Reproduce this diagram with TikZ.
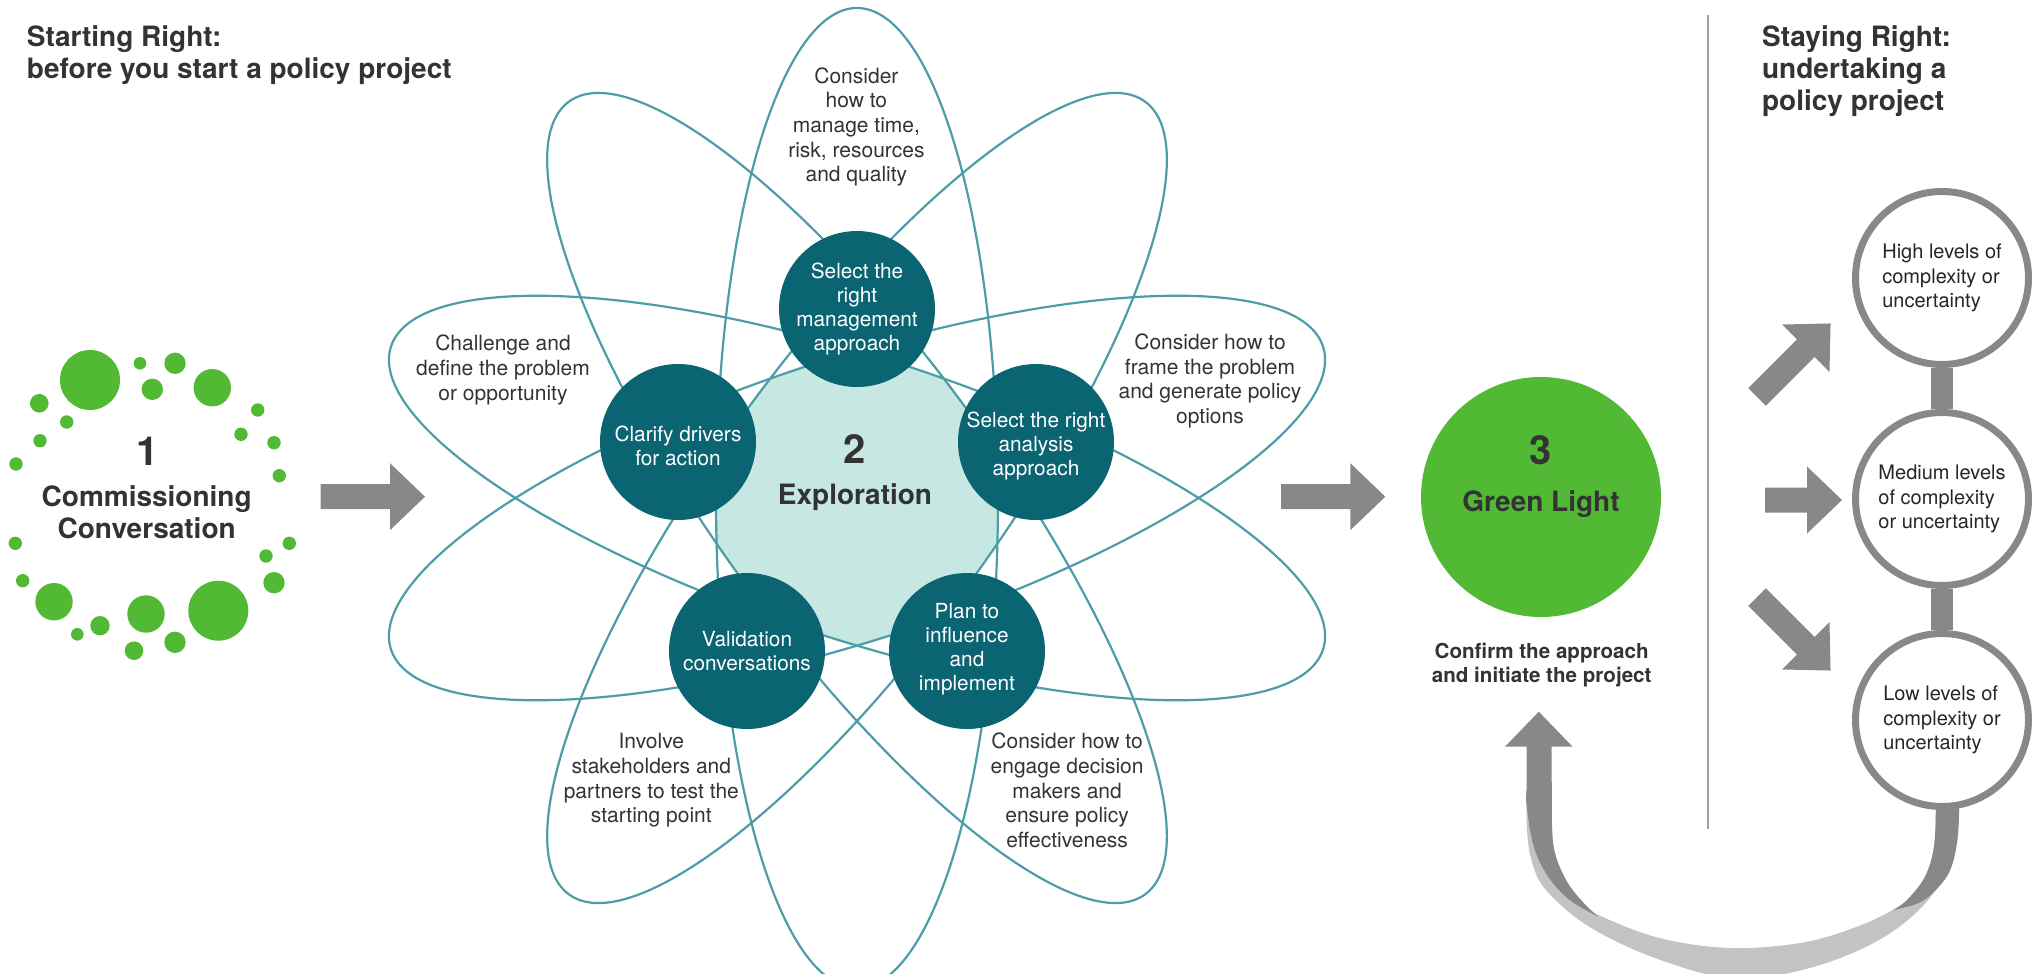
\documentclass[tikz,border=0pt]{standalone}
\usepackage{fontspec}
\setmainfont{TeX Gyre Heros}
\definecolor{tealdark}{HTML}{0B6472}
\definecolor{tealline}{HTML}{4C9DA7}
\definecolor{teallight}{HTML}{C6E7E2}
\definecolor{grn}{HTML}{52B934}
\definecolor{agray}{HTML}{888888}
\definecolor{lgray}{HTML}{C3C3C3}
\definecolor{txt}{HTML}{333333}
\definecolor{divgray}{HTML}{A0A0A0}
\tikzset{
  petal/.style={font=\fontsize{10.5}{12.35}\selectfont, text=txt, align=center, inner sep=0pt},
  hub/.style={circle, fill=tealdark, minimum size=78pt, inner sep=0pt},
  hubtext/.style={font=\fontsize{10.4}{12.1}\selectfont, text=white, align=center, inner sep=0pt},
  orbit/.style={draw=tealline, line width=1.1pt},
  heading/.style={font=\fontsize{14}{16}\selectfont\bfseries, text=txt, align=left,
    inner sep=0pt, anchor=north west},
  bignum/.style={font=\fontsize{20}{24}\selectfont\bfseries, text=txt, inner sep=0pt, anchor=base},
  titletext/.style={font=\fontsize{14}{16}\selectfont\bfseries, text=txt, inner sep=0pt, anchor=base},
  subtext/.style={font=\fontsize{10.3}{12}\selectfont\bfseries, text=txt, inner sep=0pt, anchor=base},
  level/.style={circle, draw=agray, line width=3.5pt, fill=white, minimum size=86.5pt,
    inner sep=0pt, font=\fontsize{10}{12.2}\selectfont, text=black!85, align=left},
  bar/.style={draw=agray, line width=11pt},
  pics/blockarrow/.style={code={
    \fill[agray] (0,-12.5) -- (#1,-12.5) -- (#1,-33.5) -- ({#1+35},0) -- (#1,33.5)
      -- (#1,12.5) -- (0,12.5) -- cycle;}}
}
\begin{document}
\begin{tikzpicture}[x=0.5pt,y=-0.5pt]
\useasboundingbox (0,0) rectangle (2040,974);

% ---------- headings
\node[heading] (h1) at (26.5,25) {Starting Right:\\before you start a policy project};
\node[heading] (h2) at (1761.7,25) {Staying Right:\\undertaking a\\policy project};

% ---------- 1 commissioning dots
\foreach \x/\y/\r in {90/380/30, 140/363.3/6.3, 175/363.3/10.7, 152.3/389.3/10.7,
  212.3/387.7/18.7, 39.3/403.3/9.3, 66.7/422/6.7, 40/440.7/6.7, 16/464/6.7,
  257.7/410/6.7, 241/434.3/6.7, 274/442.7/6.7, 279.3/475.7/6.7, 15.3/543.3/6.7,
  289.3/543.3/6.7, 266/556/6.7, 22.7/580.7/6.7, 274/582.7/10.7, 54/601.7/18.7,
  218.3/610.7/30, 146/614/18.7, 100/625.7/9.7, 77.3/634.3/6.3, 175/642.3/10.7,
  134/650.7/9.3}
  \fill[grn] (\x,\y) circle (\r);
\node[bignum] (n1) at (147.3,465) {1};
\node[titletext] (comm1) at (146.7,506) {Commissioning};
\node[titletext] (comm2) at (146.7,538.3) {Conversation};

% ---------- arrows between stages
\pic at (320.7,496.7) {blockarrow=69.3};
\pic at (1281,496.7) {blockarrow=69.3};

% ---------- 2 exploration
\coordinate (C) at (857,498);
\fill[teallight] ({857+148*cos(18)},{498-148*sin(18)})
  \foreach \k in {1,...,9}{ -- ({857+148*cos(18+36*\k)},{498-148*sin(18+36*\k)}) } -- cycle;
\foreach \a in {90,54,18,-18,-54}
  \draw[orbit, rotate around={\a:(C)}] (C) ellipse [x radius=490, y radius=141];

\node[hub] (mgmt) at (857,309) {};
\node[hub] (anal) at (1036,442) {};
\node[hub] (plan) at (967,651) {};
\node[hub] (valid) at (747,651) {};
\node[hub] (clar) at (678,442) {};
\node[hubtext] at (mgmt.center) {Select the\\right\\management\\approach};
\node[hubtext] at ([yshift=-2pt]anal.center) {Select the right\\analysis\\approach};
\node[hubtext] at ([yshift=1pt]plan.center) {Plan to\\influence\\and\\implement};
\node[hubtext] at (valid.center) {Validation\\conversations};
\node[hubtext] at ([yshift=-2pt]clar.center) {Clarify drivers\\for action};

\node[bignum] (n2) at (855,463.3) {2};
\node[titletext] (expl) at (855,504) {Exploration};

\node[petal] (p1) at (856.4,127) {Consider\\how to\\manage time,\\risk, resources\\and quality};
\node[petal] (p2) at (503,370) {Challenge and\\define the problem\\or opportunity};
\node[petal] (p3) at (1210,381) {Consider how to\\frame the problem\\and generate policy\\options};
\node[petal] (p4) at (651.3,780.5) {Involve\\stakeholders and\\partners to test the\\starting point};
\node[petal] (p5) at (1067.1,790.5) {Consider how to\\engage decision\\makers and\\ensure policy\\effectiveness};

% ---------- 3 green light
\node[circle, fill=grn, minimum size=120pt, inner sep=0pt] (glc) at (1541,497) {};
\node[bignum] (n3) at (1541,464) {3};
\node[titletext] (gl) at (1541,511.7) {Green Light};
\node[subtext] (conf1) at (1541.7,658.3) {Confirm the approach};
\node[subtext] (conf2) at (1541.7,682.3) {and initiate the project};

% ---------- divider
\coordinate (dtop) at (1708,15.5);
\coordinate (dbot) at (1708,829);
\draw[divgray, line width=1pt] (dtop) -- (dbot);

% ---------- return ribbon
\fill[lgray] plot[smooth, tension=0.6] coordinates {(1526.7,790) (1527,830) (1532,862)
    (1546,890) (1588,926) (1655,958) (1731,978) (1806,969) (1879,940) (1929,899)
    (1954,850) (1959,810)}
  -- plot[smooth, tension=0.6] coordinates {(1935.8,810) (1934,846.7) (1925,876.7)
    (1907,900) (1892.8,910) (1857,926.7) (1803,942.5) (1731,948) (1659.5,938)
    (1598.4,915) (1584,903.3) (1566,880) (1553.6,846.7) (1551.8,800)} -- cycle;
\fill[agray] (1526.5,746.7) -- (1505,746.7) -- (1538.8,711.7) -- (1572.6,746.7)
  -- (1551.6,746.7) -- (1551.8,800)
  -- plot[smooth, tension=0.6] coordinates {(1551.8,800) (1553.6,846.7) (1566,880)
    (1584,903.3) (1598.4,916.7)}
  -- plot[smooth, tension=0.6] coordinates {(1598.4,916.7) (1569.7,900) (1548.2,876.7)
    (1533.8,846.7) (1526.7,806.7) (1526.5,790)} -- cycle;
\fill[agray] (1935.8,800)
  -- plot[smooth, tension=0.6] coordinates {(1935.8,806.7) (1934,846.7) (1925,876.7)
    (1907,900) (1892.8,910)}
  -- plot[smooth, tension=0.6] coordinates {(1892.8,910) (1917.9,903.3) (1935.8,890)
    (1950.2,870) (1957.4,840) (1959.2,806.7)} -- (1959.2,800) -- cycle;

% ---------- levels
\node[level] (high) at (1942,278) {High levels of\\complexity or\\uncertainty};
\node[level] (med) at (1942,499) {Medium levels\\of complexity\\or uncertainty};
\node[level] (low) at (1942,720) {Low levels of\\complexity or\\uncertainty};
\draw[bar] (high.south) -- (med.north);
\draw[bar] (med.south) -- (low.north);

\pic[rotate=45] at (1757,397) {blockarrow=69};
\pic at (1765,500) {blockarrow=42};
\pic[rotate=-45] at (1757,597) {blockarrow=69};
\end{tikzpicture}
\end{document}
